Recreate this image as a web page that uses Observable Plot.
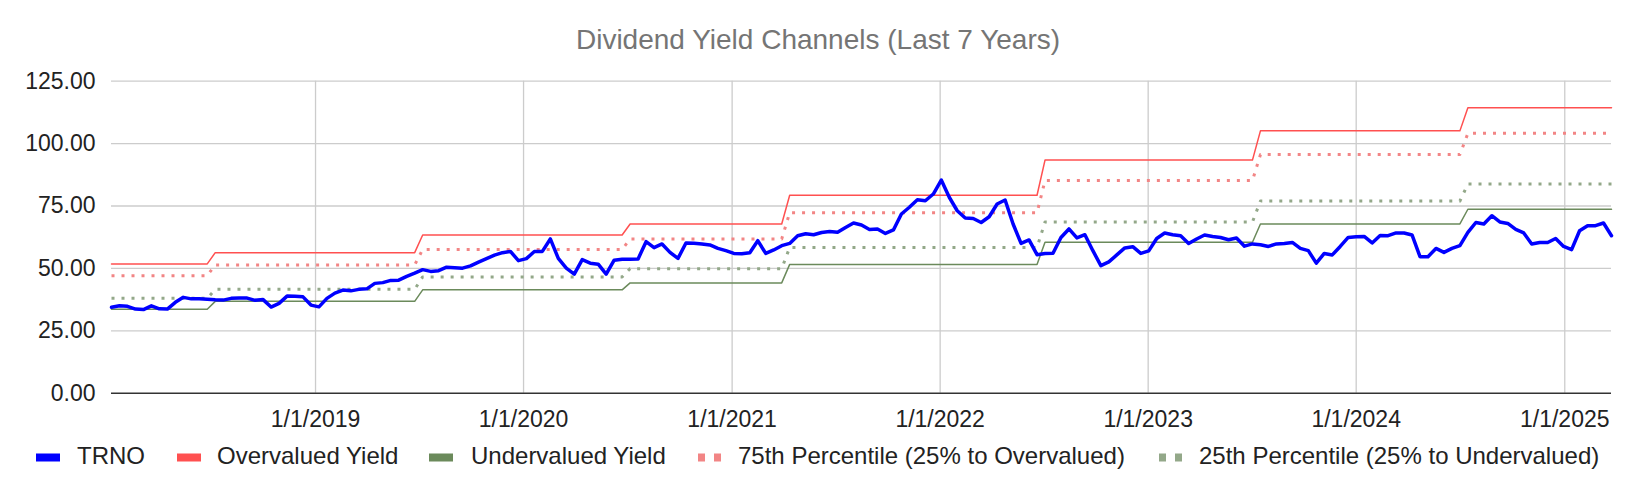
<!DOCTYPE html>
<html>
<head>
<meta charset="utf-8">
<script src="https://cdn.jsdelivr.net/npm/d3@7"></script>
<script src="https://cdn.jsdelivr.net/npm/@observablehq/plot@0.6"></script>
<style>
  body { margin: 0; background: #fff; font-family: "Liberation Sans", Arial, sans-serif; }
  #wrap { position: relative; width: 1636px; height: 494px; overflow: hidden; background: #fff; }
  #title { position: absolute; left: 0; top: 25px; width: 1636px; line-height: 30px; text-align: center;
           font-size: 28px; color: #757575; white-space: nowrap; }
  #chart { position: absolute; left: 0; top: 60px; }
  .lg { position: absolute; top: 441px; height: 30px; line-height: 30px; font-size: 24px; color: #222; white-space: nowrap; }
  .sw { position: absolute; top: 441px; }
</style>
</head>
<body>
<div id="wrap">
  <div id="title">Dividend Yield Channels (Last 7 Years)</div>
  <div id="chart"></div>
  <div id="legend"></div>
</div>
<script>
// ---- data (biweekly samples) ----
const START = "2018-01-08";
const STEP_DAYS = 14;

const trno = [
  34.4,35.0,34.8,33.7,33.5,35.0,33.8,33.7,36.4,38.4,
  37.8,37.8,37.6,37.4,37.3,38.0,38.1,38.1,37.2,37.5,
  34.5,36.0,38.9,38.8,38.6,35.3,34.6,38.0,40.1,41.3,
  41.0,41.6,41.8,44.0,44.3,45.2,45.3,46.8,48.1,49.5,
  48.8,49.1,50.5,50.3,50.1,51.0,52.5,53.9,55.3,56.3,
  56.8,53.1,53.9,56.8,56.8,61.8,54.0,50.1,47.7,53.5,
  52.1,51.7,47.7,53.3,53.7,53.7,53.8,60.7,58.3,59.8,
  56.4,54.0,60.2,60.1,59.8,59.4,58.0,57.1,56.0,55.9,
  56.3,61.1,56.0,57.4,59.1,60.0,63.1,63.9,63.5,64.4,
  64.8,64.5,66.4,68.2,67.4,65.6,65.8,64.0,65.4,71.8,
  74.5,77.5,77.1,79.8,85.4,78.5,73.1,70.2,70.0,68.4,
  70.7,75.8,77.4,67.8,60.0,61.4,55.5,56.0,56.1,62.4,
  65.8,62.2,63.5,57.1,51.1,52.6,55.4,58.2,58.7,56.0,
  57.0,62.0,64.2,63.5,63.1,60.0,61.8,63.4,62.8,62.4,
  61.5,62.2,58.9,59.8,59.5,58.8,59.8,60.0,60.4,58.0,
  57.1,52.1,56.0,55.4,58.8,62.4,62.7,62.8,60.2,63.2,
  63.1,64.2,64.2,63.4,54.7,54.7,58.0,56.4,58.0,59.1,
  64.4,68.4,67.8,71.1,68.6,68.0,65.6,64.2,59.8,60.4,
  60.4,62.0,58.8,57.5,65.1,67.1,67.1,68.2,63.1
];

// channel level changes (start date of each new level)
const channelStarts = ["2018-07-09","2019-07-08","2020-07-06","2021-04-12","2022-07-04","2023-07-17","2024-07-15"];
const overvalued  = [51.8, 56.3, 63.4, 67.8, 79.3, 93.4, 105.1, 114.4];
const pct75       = [47.1, 51.4, 57.6, 61.8, 72.3, 85.2, 95.6, 104.1];
const pct25       = [38.0, 41.6, 46.6, 49.9, 58.4, 68.6, 77.0, 83.8];
const undervalued = [33.6, 36.8, 41.4, 44.2, 51.6, 60.5, 67.8, 73.7];

const seriesNames = ["TRNO","Overvalued Yield","Undervalued Yield","75th Percentile (25% to Overvalued)","25th Percentile (25% to Undervalued)"];
const yTicks = [0, 25, 50, 75, 100, 125];
const xTickLabels = ["2019-01-01","2020-01-01","2021-01-01","2022-01-01","2023-01-01","2024-01-01","2025-01-01"];

// ---- build table ----
const start = d3.utcParse("%Y-%m-%d")(START);
const starts = channelStarts.map(d3.utcParse("%Y-%m-%d"));
const rows = trno.map((v, i) => {
  const date = d3.utcDay.offset(start, STEP_DAYS * i);
  const p = d3.bisectRight(starts, date);
  return {date, trno: v, over: overvalued[p], p75: pct75[p], p25: pct25[p], under: undervalued[p]};
});
const xTicks = xTickLabels.map(d3.utcParse("%Y-%m-%d"));

const C = {trno: "#0000ff", over: "#ff5050", under: "#6b8a5b", p75: "#f28585", p25: "#93a889"};

const chart = Plot.plot({
  width: 1636,
  height: 380,
  marginLeft: 111,
  marginRight: 25,
  marginTop: 20.7,
  marginBottom: 47.3,
  style: {fontFamily: '"Liberation Sans", Arial, sans-serif', fontSize: "23px", color: "#222", background: "transparent", overflow: "visible"},
  x: {type: "utc", domain: [rows[0].date, rows[rows.length - 1].date], label: null},
  y: {domain: [0, 125], label: null},
  marks: [
    Plot.gridY(yTicks.filter(d => d > 0), {stroke: "#cccccc", strokeOpacity: 1, strokeWidth: 1.3}),
    Plot.gridX(xTicks, {stroke: "#cccccc", strokeOpacity: 1, strokeWidth: 1.3}),
    Plot.axisY(yTicks, {tickSize: 0, tickPadding: 16, tickFormat: d => d.toFixed(2), fontSize: 23, label: null}),
    Plot.axisX(xTicks, {tickSize: 0, tickPadding: 17, tickFormat: d3.utcFormat("%-m/%-d/%Y"), fontSize: 23, label: null}),
    Plot.ruleY([0], {stroke: "#333", strokeWidth: 1.6}),
    Plot.line(rows, {x: "date", y: "under", stroke: C.under, strokeWidth: 1.5}),
    Plot.line(rows, {x: "date", y: "over", stroke: C.over, strokeWidth: 1.5}),
    Plot.line(rows, {x: "date", y: "p25", stroke: C.p25, strokeWidth: 3, strokeDasharray: "3,7", strokeLinecap: "butt"}),
    Plot.line(rows, {x: "date", y: "p75", stroke: C.p75, strokeWidth: 3, strokeDasharray: "3,7", strokeLinecap: "butt"}),
    Plot.line(rows, {x: "date", y: "trno", stroke: C.trno, strokeWidth: 3.5, strokeLinejoin: "round"})
  ]
});
document.getElementById("chart").appendChild(chart);

// ---- legend ----
const legendItems = [
  {name: seriesNames[0], color: C.trno, dotted: false, sx: 36, tx: 77},
  {name: seriesNames[1], color: C.over, dotted: false, sx: 177, tx: 217},
  {name: seriesNames[2], color: C.under, dotted: false, sx: 429, tx: 471},
  {name: seriesNames[3], color: C.p75, dotted: true, sx: 698, tx: 738},
  {name: seriesNames[4], color: C.p25, dotted: true, sx: 1159, tx: 1199}
];
const lg = document.getElementById("legend");
for (const it of legendItems) {
  const sw = document.createElementNS("http://www.w3.org/2000/svg", "svg");
  sw.setAttribute("class", "sw");
  sw.setAttribute("width", 26);
  sw.setAttribute("height", 30);
  sw.style.left = it.sx + "px";
  if (it.dotted) {
    sw.innerHTML = `<rect x="0" y="12.5" width="7" height="8" fill="${it.color}"/><rect x="16" y="12.5" width="7" height="8" fill="${it.color}"/>`;
  } else {
    sw.innerHTML = `<rect x="0" y="12.5" width="24" height="8" fill="${it.color}"/>`;
  }
  lg.appendChild(sw);
  const t = document.createElement("div");
  t.className = "lg";
  t.style.left = it.tx + "px";
  t.textContent = it.name;
  lg.appendChild(t);
}
</script>
</body>
</html>
